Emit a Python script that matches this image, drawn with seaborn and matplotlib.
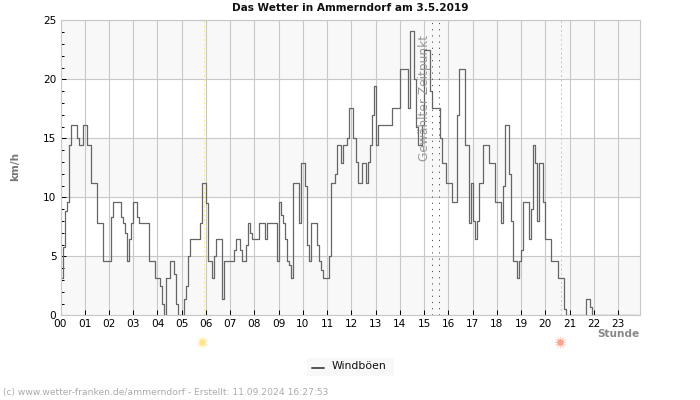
import numpy as np
import pandas as pd
import matplotlib
matplotlib.use('Agg')
import matplotlib.pyplot as plt
import seaborn as sns

# 5-minute gust values, one row per hour
h00 = [3.2, 5.8, 8.8, 9.6, 14.4, 16.1, 16.1, 16.1, 15.0, 14.4, 14.4, 16.1]
h01 = [16.1, 14.4, 14.4, 11.2, 11.2, 11.2, 7.8, 7.8, 7.8, 4.6, 4.6, 4.6]
h02 = [4.6, 8.3, 9.6, 9.6, 9.6, 9.6, 8.3, 7.8, 7.0, 4.6, 6.5, 7.8]
h03 = [9.6, 9.6, 8.3, 7.8, 7.8, 7.8, 7.8, 7.8, 4.6, 4.6, 4.6, 3.2]
h04 = [3.2, 2.5, 1.0, 0, 3.2, 3.2, 4.6, 4.6, 3.5, 1.0, 0, 0]
h05 = [0, 1.4, 2.5, 5.0, 6.5, 6.5, 6.5, 6.5, 6.5, 7.8, 11.2, 11.2]
h06 = [9.5, 4.6, 4.6, 3.2, 5.0, 6.5, 6.5, 6.5, 1.4, 4.6, 4.6, 4.6]
h07 = [4.6, 4.6, 5.5, 6.5, 6.5, 5.5, 4.6, 4.6, 6.0, 7.8, 7.0, 6.5]
h08 = [6.5, 6.5, 7.8, 7.8, 7.8, 6.5, 7.8, 7.8, 7.8, 7.8, 7.8, 4.6]
h09 = [9.6, 8.5, 7.8, 6.5, 4.6, 4.3, 3.2, 11.2, 11.2, 11.2, 7.8, 12.9]
h10 = [12.9, 11.0, 6.0, 4.6, 7.8, 7.8, 7.8, 6.0, 4.6, 3.8, 3.2, 3.2]
h11 = [3.2, 5.0, 11.2, 11.2, 12.0, 14.4, 14.4, 12.9, 14.4, 14.4, 15.0, 17.6]
h12 = [17.6, 15.0, 13.0, 11.2, 11.2, 12.9, 12.9, 11.2, 13.0, 14.4, 17.0, 19.4]
h13 = [14.4, 16.1, 16.1, 16.1, 16.1, 16.1, 16.1, 16.1, 17.6, 17.6, 17.6, 17.6]
h14 = [20.9, 20.9, 20.9, 20.9, 17.6, 24.1, 24.1, 20.0, 16.0, 14.4, 14.4, 16.1]
h15 = [22.5, 22.5, 22.5, 19.0, 17.6, 17.6, 17.6, 17.6, 15.0, 12.9, 12.9, 11.2]
h16 = [11.2, 11.2, 9.6, 9.6, 17.0, 20.9, 20.9, 20.9, 14.4, 14.4, 7.8, 11.2]
h17 = [8.0, 6.5, 8.0, 11.2, 11.2, 14.4, 14.4, 14.4, 12.9, 12.9, 12.9, 9.6]
h18 = [9.6, 9.6, 7.8, 11.0, 16.1, 16.1, 12.0, 8.0, 4.6, 4.6, 3.2, 4.6]
h19 = [5.5, 9.6, 9.6, 9.6, 6.5, 9.0, 14.4, 12.9, 8.0, 12.9, 12.9, 9.6]
h20 = [6.5, 6.5, 6.5, 4.6, 4.6, 4.6, 3.2, 3.2, 3.2, 0.5, 0, 0]
h21 = [0, 0, 0, 0, 0, 0, 0, 0, 1.4, 1.4, 0.7, 0]
h22 = [0] * 12
h23 = [0] * 11

gusts = (h00 + h01 + h02 + h03 + h04 + h05 + h06 + h07 + h08 + h09 + h10 + h11
         + h12 + h13 + h14 + h15 + h16 + h17 + h18 + h19 + h20 + h21 + h22 + h23)
hours = ['%02d' % h for h in range(24)]
sunrise = 5.90
sunset = 20.65
selected = [15.33, 15.59]

sns.set_style('white')
grid_col = '#c8c8c8'

df = pd.DataFrame({'stunde': np.arange(len(gusts)) / 12, 'wind': gusts})

fig = plt.figure(figsize=(7, 4), dpi=100)
ax = fig.add_axes([60.5 / 700, 1 - 315.3 / 400, 579.5 / 700, 295 / 400])

# alternating bands
for low, high in [(0, 5), (10, 15), (20, 25)]:
    ax.axhspan(low, high, color='#f8f8f8', zorder=0, lw=0)

ax.set_axisbelow(True)
ax.grid(True, color=grid_col, lw=0.8)

sns.lineplot(data=df, x='stunde', y='wind', ax=ax, color='#666666', lw=0.9,
             drawstyle='steps-post', errorbar=None, zorder=2, legend=False)

ax.axvline(sunrise, color='#f7e98e', lw=0.72, ls=(0, (2, 2.5)), zorder=1.5)
ax.axvline(sunset, color='#f5c27a', lw=0.72, ls=(0, (2, 2.5)), zorder=1.5)
for s in selected:
    ax.axvline(s, color='#555555', lw=0.72, ls=(0, (1.2, 5)), zorder=3)

ax.text(15.03, 13.1, 'Gewählter Zeitpunkt', rotation=90, color='#999999',
        fontsize=8.8, ha='center', va='bottom', zorder=4)

ax.set_xlim(0, 23.9)
ax.set_ylim(0, 25)
ax.set_xticks(range(24))
ax.set_xticklabels(hours)
ax.set_yticks(range(0, 30, 5))
ax.set_yticks(range(0, 26), minor=True)
ax.tick_params(axis='both', which='major', direction='in', length=3.6, width=0.72,
               labelsize=7.6, color='black', labelcolor='black', pad=3,
               bottom=True, left=True)
ax.tick_params(axis='y', which='minor', direction='in', length=2.2, width=0.72,
               color='black', left=True)
for spine in ax.spines.values():
    spine.set_color(grid_col)
    spine.set_linewidth(0.8)

ax.set_xlabel('')
ax.set_ylabel('')

fig.text(350 / 700, 1 - 8 / 400, 'Das Wetter in Ammerndorf am 3.5.2019',
         fontsize=7.6, fontweight='bold', ha='center', va='center', color='#111111')
fig.text(15 / 700, 1 - 166 / 400, 'km/h', rotation=90, fontsize=7.6,
         fontweight='bold', color='#777777', ha='center', va='center')
fig.text(639 / 700, 1 - 334 / 400, 'Stunde', fontsize=7.6, fontweight='bold',
         color='#888888', ha='right', va='center')

# sun symbols under the axis
trans = ax.get_xaxis_transform()
for pos, col in [(sunrise - 0.06, '#fde48f'), (sunset - 0.06, '#f9a58f')]:
    ax.scatter([pos], [-0.09], s=22, color=col, marker='o', transform=trans,
               clip_on=False, lw=0, zorder=5)
    ax.scatter([pos], [-0.09], s=60, color=col, marker=(12, 2, 0), transform=trans,
               clip_on=False, lw=0.6, alpha=0.5, zorder=5)

# legend box
fig.patches.append(plt.Rectangle((307 / 700, 1 - 376 / 400), 87 / 700, 18 / 400,
                                 transform=fig.transFigure, color='#f8f8f8', lw=0))
fig.add_artist(plt.Line2D([312 / 700, 324 / 700], [1 - 367.5 / 400] * 2, color='#555555', lw=1.4))
fig.text(332 / 700, 1 - 366 / 400, 'Windböen', fontsize=7.8, color='#111111', va='center')

fig.text(3 / 700, 1 - 393 / 400,
         '(c) www.wetter-franken.de/ammerndorf - Erstellt: 11.09.2024 16:27:53',
         fontsize=6.6, color='#aaaaaa', va='center')

fig.savefig('out.png', dpi=100)
